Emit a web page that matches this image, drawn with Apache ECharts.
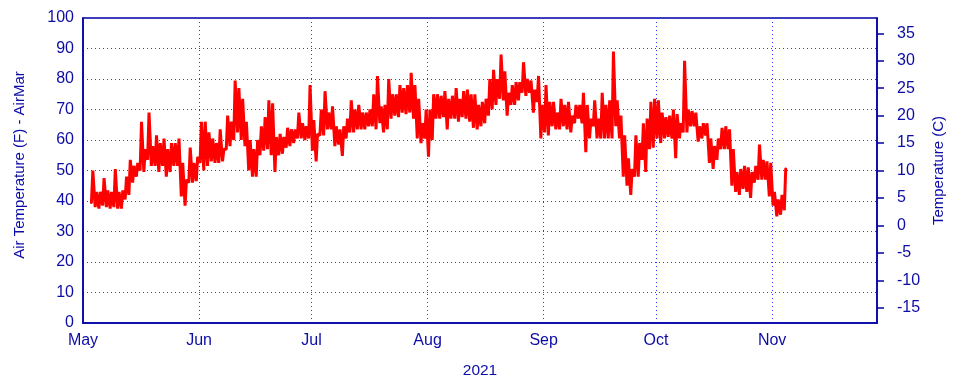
<!DOCTYPE html>
<html><head><meta charset="utf-8">
<script src="https://cdn.jsdelivr.net/npm/echarts@6/dist/echarts.min.js"></script>
<style>html,body{margin:0;padding:0;background:#fff}#c{width:960px;height:384px}</style>
</head><body><div id="c"></div>
<script>
// Daily low / high air temperature (F), starting at May 3, 2021 (day index 2 from May 1)
const firstDay = 2;
const dailyLow = [
39.5,38,37.5,38.5,38,37.5,38,37.5,37.5,40.5,42,46,48,50,49.5,53.5,51.5,51.5,49.5,51.5,48,49.5,51.5,51.5,41.5,38.5,46,46,46.5,
52.5,50,51.5,53,52.5,52.5,53,57,58,60,62.5,60,58,50,48,48,55,56.5,57,55,49.5,55,55.5,57.5,58,59,60.5,60.5,60,60.5,
56.5,53,61.5,61.5,63.5,63.5,58,58.5,54.8,60.5,62.5,62.5,63.5,63.5,63.5,64.5,64.5,63.5,65.5,62.5,63.5,67,68,67.5,69,68.5,69,67,60.5,59,60.5,
54.5,60,67,67,67.5,63.5,67,67,66,67.5,67,66,64,63.5,64.5,65.5,68,70,71.5,73.5,73,68,71.5,71.5,73,75.5,74.5,75.5,69,72.5,60.5,
62.5,61.5,64.5,63.5,63.5,64.5,63.5,62.5,65.5,67,65.5,56,60.5,64.5,60.5,60.5,60.5,60.5,60.5,64.5,60.5,48,45,42,48,48,53.5,49.5,57,57.5,
60.5,59,60.5,61,60.5,54,60.5,62.5,62.5,64.5,64.5,59.5,60.5,61.5,52.5,50.5,53.5,57,57,57,45,43,42,44,43,41,46,47,47,47,41.5,
38.5,35,35.5,37
];
const dailyHigh = [
50,43,43,47.5,43.5,43,50.5,43,43.5,48,53.5,51.5,52.5,66,57,69,58,61.5,59,60.5,57,59,59,60.5,52.5,47,57.5,52.5,54.5,
66,66,62.5,60.5,59,63.5,57,68,66,79.5,77,73.5,66,60,57,60,64.5,67.5,73,72,61,62,61,64,63.5,63.5,69,65.5,64.5,78,
66.5,62,70,76,69,71,64.5,63.5,64.5,67,73,70,71.5,69,69,70,75,81,71,71.5,80,75,75,78,77,78,82,78,73.5,65.5,70,
70,75,75,74.5,76,73.5,74.5,77,73.5,76,76.5,75,75,71.5,72.5,73.5,80,83,80,88,82.5,75.5,78,79,79,85.5,80,79.5,76.5,81,71.5,
78,72.5,72.5,69,73.5,71.5,72.5,68,71.5,71.5,75.5,71.5,67,73,67,75.5,71.5,73,89,73,68,61.5,54,50.5,61.5,59,65.5,67,72.5,73.5,
73,69,67.5,68,70,68.5,65.5,86,70,69.5,69,64.5,65.5,65.5,60.5,58,60.5,64,64.5,63.5,57,49.5,50.5,51.5,51,49.5,51.5,58.5,53.5,53,52.5,
43,40.5,42,50.5
];
const monthNames = ['Jan','Feb','Mar','Apr','May','Jun','Jul','Aug','Sep','Oct','Nov','Dec'];
const fTicks = [0,10,20,30,40,50,60,70,80,90,100];
const cTicks = [-15,-10,-5,0,5,10,15,20,25,30,35];

const points = [];
for (let i = 0; i < dailyLow.length; i++) {
  const d = firstDay + i;
  points.push([new Date(2021, 4, 1 + d, 6).getTime(), dailyLow[i]]);
  points.push([new Date(2021, 4, 1 + d, 15).getTime(), dailyHigh[i]]);
}

const txt = '#0c0ca6';
const frame = '#0000a8';
const gridCol = '#3030ff';
const chart = echarts.init(document.getElementById('c'), null, {renderer: 'canvas'});
chart.setOption({
  animation: false,
  backgroundColor: '#fff',
  textStyle: {fontFamily: 'Liberation Sans, Arial, sans-serif'},
  grid: {left: 83, right: 83, top: 18, bottom: 61, show: true, borderColor: frame, borderWidth: 1.5, containLabel: false},
  xAxis: {
    type: 'time',
    min: new Date(2021, 4, 1).getTime(),
    max: new Date(2021, 10, 29).getTime(),
    splitNumber: 7,
    minInterval: 28 * 864e5,
    name: '2021', nameLocation: 'middle', nameGap: 40,
    nameTextStyle: {color: txt, fontSize: 15.5, fontFamily: 'Liberation Sans'},
    axisLine: {lineStyle: {color: frame, width: 1.5}},
    axisTick: {show: false},
    axisLabel: {
      color: txt, fontSize: 16, margin: 10, fontFamily: 'Liberation Sans',
      showMaxLabel: false,
      formatter: function (v) { const dt = new Date(v); return dt.getDate() === 1 ? monthNames[dt.getMonth()] : ''; }
    },
    splitLine: {show: true, lineStyle: {color: gridCol, width: 1, type: [1, 3]}}
  },
  yAxis: [{
    type: 'value', min: fTicks[0], max: fTicks[fTicks.length - 1], interval: 10, position: 'left',
    name: 'Air Temperature (F) - AirMar', nameLocation: 'middle', nameGap: 56,
    nameTextStyle: {color: txt, fontSize: 15, fontFamily: 'Liberation Sans', padding: [0, 0, 0, 11]},
    axisLine: {show: true, lineStyle: {color: frame, width: 1.5}},
    axisTick: {show: false},
    axisLabel: {color: txt, fontSize: 16, margin: 9, fontFamily: 'Liberation Sans'},
    splitLine: {show: true, lineStyle: {color: gridCol, width: 1, type: [1, 3]}}
  }, {
    type: 'value', min: -160 / 9, max: 340 / 9, position: 'right',
    name: 'Temperature (C)', nameLocation: 'middle', nameGap: 53, nameRotate: 90,
    nameTextStyle: {color: txt, fontSize: 15, fontFamily: 'Liberation Sans'},
    axisLine: {show: true, lineStyle: {color: frame, width: 1.5}},
    axisTick: {show: true, inside: false, length: 7, customValues: cTicks, lineStyle: {color: frame, width: 1.5}},
    axisLabel: {color: txt, fontSize: 16, margin: 20, customValues: cTicks, fontFamily: 'Liberation Sans'},
    splitLine: {show: false}
  }],
  series: [{
    type: 'line', yAxisIndex: 0, data: points,
    showSymbol: false, symbol: 'none',
    lineStyle: {color: '#ff0000', width: 3, join: 'bevel', cap: 'round'},
    itemStyle: {color: '#ff0000'}
  }]
});
</script></body></html>
